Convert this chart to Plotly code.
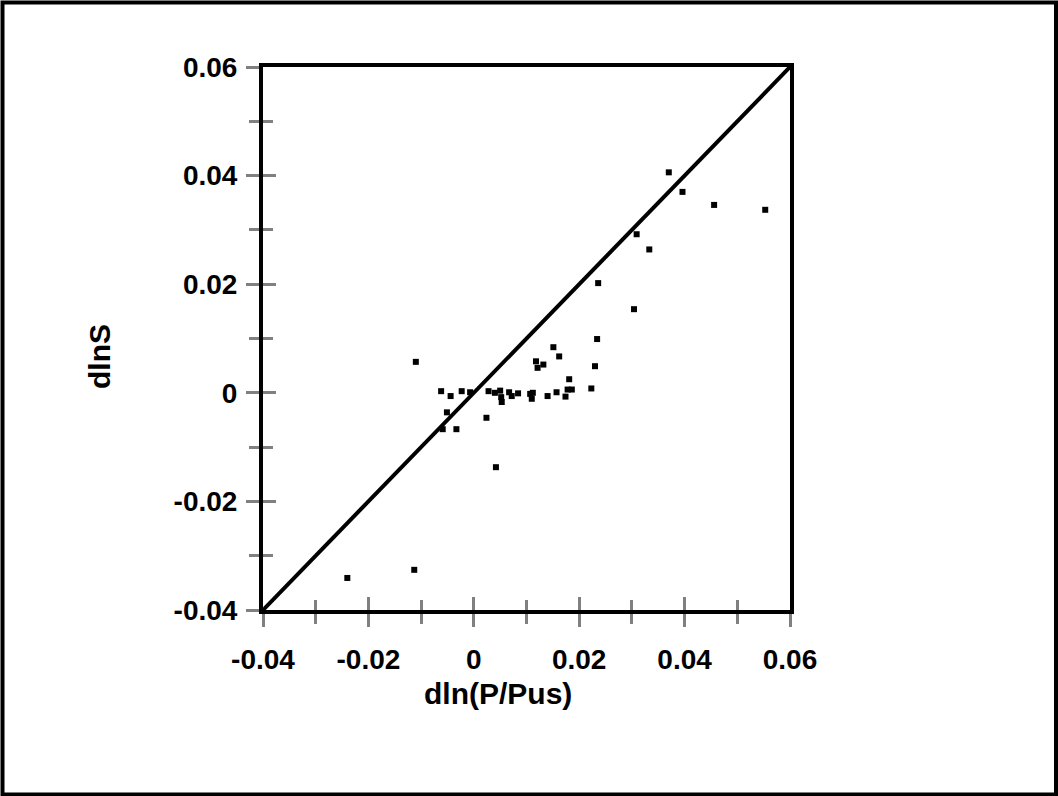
import plotly.graph_objects as go

# data
x_vals = [-0.0110, 0.0151, 0.0234, 0.0162, 0.0118, 0.0132, 0.0121, 0.0230, 0.0181, 0.0223,
          0.0178, 0.0186, -0.0062, -0.0044, -0.0023, -0.0007, 0.0028, 0.0040, 0.0050, 0.0052,
          0.0053, 0.0067, 0.0072, 0.0084, 0.0107, 0.0112, 0.0110, 0.0140, 0.0157, 0.0174,
          -0.0051, -0.0059, -0.0033, 0.0024, 0.0042,
          0.0370, 0.0396, 0.0456, 0.0553, 0.0309, 0.0333, 0.0236, 0.0304,
          -0.0240, -0.0113]
y_vals = [0.0057, 0.0084, 0.0099, 0.0067, 0.0058, 0.0052, 0.0046, 0.0049, 0.0025, 0.0008,
          0.0006, 0.0006, 0.0003, -0.0006, 0.0003, 0.0001, 0.0003, 0.0000, 0.0004, -0.0008,
          -0.0017, 0.0001, -0.0006, -0.0001, -0.0002, 0.0000, -0.0011, -0.0006, 0.0001, -0.0007,
          -0.0036, -0.0067, -0.0067, -0.0046, -0.0137,
          0.0406, 0.0370, 0.0346, 0.0337, 0.0292, 0.0264, 0.0202, 0.0154,
          -0.0341, -0.0326]
line_x = [-0.04, 0.06]
line_y = [-0.04, 0.06]
axis_range = [-0.04, 0.06]
tick_vals = [-0.04, -0.02, 0, 0.02, 0.04, 0.06]
tick_text = ["-0.04", "-0.02", "0", "0.02", "0.04", "0.06"]

W, H = 1058, 796
L, R, T, B = 263, 268, 67, 186
pw, ph = W - L - R, H - T - B

FAM = "Liberation Sans, Arial, sans-serif"
font = dict(family=FAM, size=28, color="black", weight="bold")
title_font = dict(family=FAM, size=30, color="black", weight="bold")
TICKC = "#808080"

fig = go.Figure()
fig.add_trace(go.Scatter(x=x_vals, y=y_vals, mode="markers",
                         marker=dict(symbol="square", size=6, color="black", line=dict(width=0)),
                         xaxis="x", yaxis="y", showlegend=False, hoverinfo="skip"))
fig.add_trace(go.Scatter(x=line_x, y=line_y, mode="lines",
                         line=dict(color="black", width=4),
                         xaxis="x2", yaxis="y2", showlegend=False, hoverinfo="skip"))

common = dict(range=axis_range, showgrid=False, zeroline=False, fixedrange=True)

fig.update_layout(
    width=W, height=H,
    margin=dict(l=L, r=R, t=T, b=B, pad=0),
    paper_bgcolor="white", plot_bgcolor="white",
    font=font,
    xaxis=dict(**common, tickmode="array", tickvals=tick_vals, ticktext=tick_text,
               ticks="outside", ticklen=13, tickwidth=3, tickcolor=TICKC,
               minor=dict(dtick=0.01, ticks="outside", ticklen=10, tickwidth=3, tickcolor=TICKC),
               showline=True, linecolor="black", linewidth=4, mirror=True,
               tickfont=font, ticklabelstandoff=8),
    yaxis=dict(**common, tickmode="array", tickvals=tick_vals, ticktext=tick_text,
               ticks="outside", ticklen=13, tickwidth=3, tickcolor=TICKC,
               minor=dict(dtick=0.01, ticks="outside", ticklen=10, tickwidth=3, tickcolor=TICKC),
               showline=True, linecolor="black", linewidth=4, mirror=True,
               tickfont=font, ticklabelstandoff=3),
    xaxis2=dict(**common, overlaying="x", side="bottom", anchor="y2",
                tickmode="array", tickvals=tick_vals, showticklabels=False,
                ticks="inside", ticklen=13, tickwidth=3, tickcolor=TICKC,
                minor=dict(dtick=0.01, ticks="inside", ticklen=10, tickwidth=3, tickcolor=TICKC),
                showline=False),
    yaxis2=dict(**common, overlaying="y", side="left", anchor="x2",
                tickmode="array", tickvals=tick_vals, showticklabels=False,
                ticks="inside", ticklen=13, tickwidth=3, tickcolor=TICKC,
                minor=dict(dtick=0.01, ticks="inside", ticklen=10, tickwidth=3, tickcolor=TICKC),
                showline=False),
    annotations=[
        dict(text="dln(P/Pus)", xref="paper", yref="paper",
             x=(498 - L) / pw, y=(H - B - 693) / ph, showarrow=False,
             xanchor="center", yanchor="middle", font=title_font),
        dict(text="dlnS", xref="paper", yref="paper",
             x=(99 - L) / pw, y=(H - B - 357) / ph, showarrow=False, textangle=-90,
             xanchor="center", yanchor="middle", font=title_font),
    ],
    shapes=[dict(type="rect", xref="paper", yref="paper",
                 x0=(2.5 - L) / pw, x1=(1056 - L) / pw,
                 y0=(H - B - 794.5) / ph, y1=(H - B - 2.5) / ph,
                 line=dict(color="black", width=4), fillcolor="rgba(0,0,0,0)", layer="below")],
)

fig.write_html("out.html", config=dict(displayModeBar=False, staticPlot=True),
               post_script="document.body.style.margin='0px';document.body.style.padding='0px';")
